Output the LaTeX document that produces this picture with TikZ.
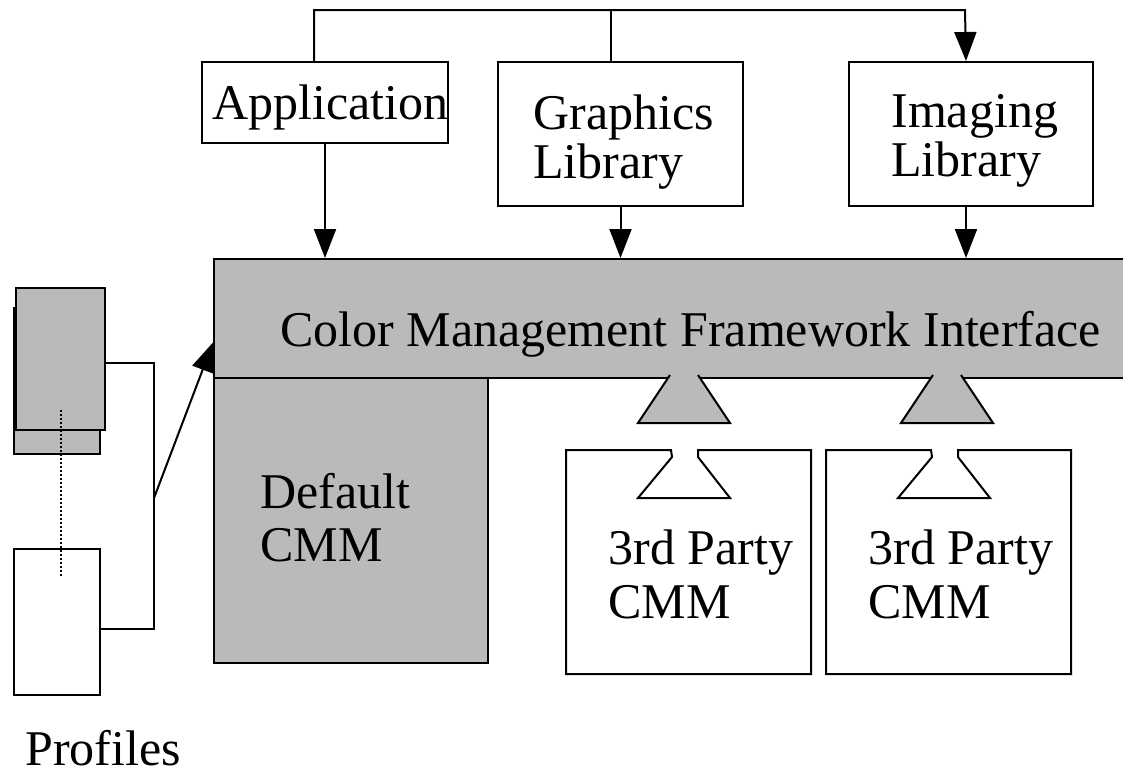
\documentclass[tikz,border=0pt]{standalone}
\usepackage{fontspec}
\setmainfont{Liberation Serif}
\usetikzlibrary{arrows.meta}

\tikzset{
  box/.style={rectangle, draw, line width=1pt, inner sep=0pt, anchor=north west},
  shade/.style={fill=black!27},
  lbl/.style={inner sep=0pt, anchor=north west, align=left, font=\fontsize{25}{27}\selectfont},
  wire/.style={line width=1pt},
  arr/.style={line width=1pt, -{Triangle[length=14.5pt, width=11pt]}},
}

\begin{document}
\begin{tikzpicture}[x=0.5pt, y=-0.5pt]
  \useasboundingbox (0,0) rectangle (1123,783);

  % clients on top
  \node[box, minimum width=123pt, minimum height=40.5pt] (app) at (201,61) {};
  \node[box, minimum width=122.5pt, minimum height=72pt] (gfx) at (497,61) {};
  \node[box, minimum width=122pt, minimum height=72pt] (img) at (848,61) {};
  \node[lbl] (apptxt) at (212,84) {Application};
  \node[lbl, font=\fontsize{25}{24.5}\selectfont] (gfxtxt) at (533,94) {Graphics\\Library};
  \node[lbl, font=\fontsize{25}{24.5}\selectfont] (imgtxt) at (891,94) {Imaging\\Library};

  % framework bar and default cmm
  \node[box, shade, minimum width=137pt, minimum height=142.5pt] (dflt) at (213,377) {};
  \node[box, shade, minimum width=460pt, minimum height=59.5pt] (cmf) at (213,258) {};
  \node[lbl] (cmftxt) at (280,311) {Color Management Framework Interface};
  \node[lbl, font=\fontsize{25}{26.5}\selectfont] (dflttxt) at (260,473) {Default\\CMM};

  % plug-in cmms
  \foreach \sx/\px/\n in {0/0/1, 260/263/2} {
    \draw[wire, shade] (670+\px,375) -- (638+\px,423) -- (730+\px,423) -- (698+\px,375);
    \draw[wire] (566+\sx,450) -- (671+\sx,450) -- (672+\sx,457) -- (638+\sx,498)
      -- (730+\sx,498) -- (698+\sx,457) -- (698+\sx,450) -- (811+\sx,450)
      -- (811+\sx,674) -- (566+\sx,674) -- cycle;
    \node[lbl] (cmm\n) at (608+\sx,529) {3rd Party\\CMM};
  }

  % calls
  \coordinate (bus) at (965,10);
  \draw[arr] ([xshift=-5.5pt]app.north) |- (bus) -- ([xshift=-2.5pt]img.north);
  \draw[wire] ([xshift=-4.75pt]gfx.north) -- ([xshift=-4.75pt]gfx.north |- bus);
  \draw[arr] (app.south) -- (app.south |- cmf.north);
  \draw[arr] (gfx.south) -- (gfx.south |- cmf.north);
  \draw[arr] ([xshift=-2.5pt]img.south) -- ([xshift=-2.5pt]img.south |- cmf.north);

  % profiles
  \node[box, shade, minimum width=43pt, minimum height=73pt] (prof0) at (13,307) {};
  \node[box, shade, minimum width=44.5pt, minimum height=71pt] (prof1) at (15,287) {};
  \node[box, minimum width=43pt, minimum height=73pt] (prof2) at (13,548) {};
  \draw[line width=0.8pt, dash pattern=on 1pt off 1pt] (61,410) -- (61,577);
  \coordinate (fork) at (154,498);
  \draw[wire] ([yshift=-2pt]prof1.east) -| (fork) |- ([yshift=-3.5pt]prof2.east);
  \draw[arr] (fork) -- ([yshift=-12pt]cmf.west);
  \node[lbl] (proftxt) at (25,730) {Profiles};
\end{tikzpicture}
\end{document}
